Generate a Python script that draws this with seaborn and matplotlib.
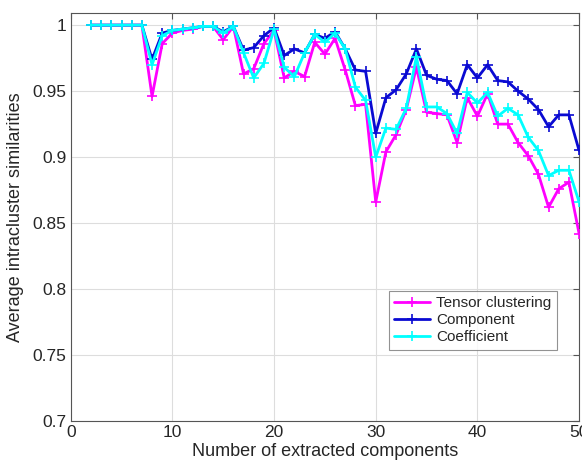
import numpy as np
import pandas as pd
import matplotlib
matplotlib.use("Agg")
import matplotlib.pyplot as plt
import seaborn as sns

x = list(range(2, 51))
tensor = [1.0, 1.0, 1.0, 1.0, 1.0, 1.0, 0.946, 0.986, 0.994, 0.996, 0.997, 0.999, 0.999,
          0.989, 0.999, 0.963, 0.967, 0.986, 0.996, 0.960, 0.965, 0.961, 0.987, 0.978,
          0.990, 0.966, 0.939, 0.940, 0.866, 0.904, 0.917, 0.936, 0.968, 0.934, 0.933,
          0.932, 0.911, 0.945, 0.931, 0.948, 0.925, 0.925, 0.911, 0.901, 0.887, 0.862,
          0.876, 0.881, 0.842]
component = [1.0, 1.0, 1.0, 1.0, 1.0, 1.0, 0.974, 0.994, 0.996, 0.997, 0.998, 0.999, 0.999,
             0.995, 0.999, 0.981, 0.983, 0.992, 0.998, 0.977, 0.982, 0.979, 0.993, 0.990,
             0.995, 0.982, 0.966, 0.965, 0.918, 0.945, 0.951, 0.963, 0.982, 0.962, 0.959,
             0.958, 0.948, 0.970, 0.960, 0.970, 0.958, 0.957, 0.950, 0.944, 0.936, 0.923,
             0.932, 0.932, 0.905]
coefficient = [1.0, 1.0, 1.0, 1.0, 1.0, 1.0, 0.970, 0.992, 0.996, 0.997, 0.998, 0.999, 0.999,
               0.994, 0.999, 0.979, 0.960, 0.971, 0.997, 0.968, 0.961, 0.979, 0.993, 0.987,
               0.994, 0.982, 0.953, 0.943, 0.900, 0.922, 0.921, 0.937, 0.976, 0.938, 0.938,
               0.933, 0.918, 0.949, 0.941, 0.949, 0.931, 0.937, 0.932, 0.915, 0.905, 0.886,
               0.890, 0.890, 0.866]

series_names = ["Tensor clustering", "Component", "Coefficient"]
colors = ["#FF00FF", "#0A0AD2", "#00FFFF"]
xticks = [0, 10, 20, 30, 40, 50]
yticks = [0.7, 0.75, 0.8, 0.85, 0.9, 0.95, 1.0]
yticklabels = ["0.7", "0.75", "0.8", "0.85", "0.9", "0.95", "1"]

df = pd.DataFrame({
    "x": x * 3,
    "y": tensor + component + coefficient,
    "series": sum([[n] * len(x) for n in series_names], []),
})

sns.set_style("white")
plt.rcParams["font.family"] = ["Liberation Sans", "DejaVu Sans"]

fig = plt.figure(figsize=(5.82, 4.67), dpi=100)
ax = fig.add_axes([0.1215, 0.0985, 0.8735, 0.8745])

for name, col in zip(series_names, colors):
    sns.lineplot(data=df[df["series"] == name], x="x", y="y", ax=ax, color=col,
                 linewidth=2, marker="+", markersize=6.5, markeredgewidth=1.2,
                 markeredgecolor=col, label=name, zorder=3)

ax.set_xlim(0, 50)
ax.set_ylim(0.7, 1.0095)
ax.set_xticks(xticks)
ax.set_xticklabels([str(t) for t in xticks])
ax.set_yticks(yticks)
ax.set_yticklabels(yticklabels)
ax.grid(True, color="#DDDDDD", linewidth=0.8, zorder=0)
ax.set_axisbelow(True)
for s in ax.spines.values():
    s.set_visible(True)
    s.set_color("#555555")
    s.set_linewidth(0.8)
ax.tick_params(direction="in", length=4, width=0.8, color="#555555",
               top=True, right=True, labelsize=12.5, labelcolor="#262626", pad=3)
ax.set_xlabel("Number of extracted components", fontsize=13, color="#262626", labelpad=2)
ax.set_ylabel("Average intracluster similarities", fontsize=13, color="#262626", labelpad=6)

leg = ax.legend(loc="upper right", bbox_to_anchor=(557 / 582, 1 - 291 / 467),
                bbox_transform=fig.transFigure, fontsize=11, frameon=True,
                fancybox=False, handlelength=2.35, handletextpad=0.4,
                borderpad=0.35, labelspacing=0.2, borderaxespad=0)
leg.get_frame().set_edgecolor("#777777")
leg.get_frame().set_linewidth(0.8)

fig.savefig("out.png", dpi=100)
